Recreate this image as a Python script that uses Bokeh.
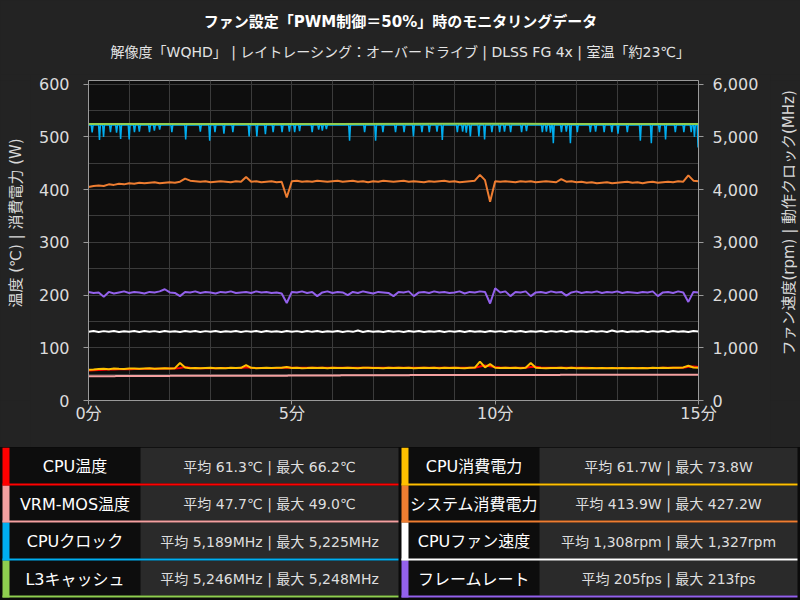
import math
from bokeh.plotting import figure
from bokeh.layouts import column, row
from bokeh.models import (Range1d, LinearAxis, FixedTicker, NumeralTickFormatter,
                          CustomJSTickFormatter)
from bokeh.core.properties import value
from bokeh.embed import file_html
from bokeh.resources import INLINE

FONT = "DejaVu Sans, Noto Sans CJK JP"

TITLE = "ファン設定「PWM制御＝50%」時のモニタリングデータ"
SUBTITLE = "解像度「WQHD」 | レイトレーシング：オーバードライブ | DLSS FG 4x | 室温「約23℃」"
LEFT_LABEL = "温度 (℃) | 消費電力 (W)"
RIGHT_LABEL = "ファン速度(rpm) | 動作クロック(MHz)"

# time grid (minutes) for sampled series
minutes = [i / 8 for i in range(121)]

cpu_temp = [57.0, 57.5, 58.0, 58.3, 58.6, 58.9, 59.1, 59.3, 59.5, 59.7,
            59.9, 60.0, 60.2, 60.3, 60.4, 60.5, 60.6, 60.7, 61.5, 63.5,
            62.0, 61.3, 61.2, 61.3, 61.4, 61.4, 61.5, 61.5, 61.6, 61.6,
            61.6, 63.0, 62.0, 61.7, 61.7, 61.8, 61.8, 61.8, 61.9, 62.5,
            62.0, 61.9, 61.9, 61.9, 62.0, 62.0, 61.9, 61.9, 62.0, 62.0,
            61.9, 61.9, 62.0, 62.0, 61.9, 62.0, 62.0, 61.9, 62.0, 62.0,
            61.9, 62.0, 62.0, 61.9, 61.9, 62.0, 62.0, 62.0, 61.9, 61.9,
            62.0, 62.0, 61.9, 62.0, 62.0, 61.9, 62.1, 64.5, 66.2, 65.0,
            63.5, 62.5, 62.2, 62.1, 62.0, 62.0, 62.0, 63.5, 64.0, 62.8,
            62.3, 62.1, 62.0, 62.0, 61.9, 61.9, 61.9, 62.0, 61.9, 61.8,
            61.8, 61.8, 61.7, 61.7, 61.7, 61.6, 61.6, 61.6, 61.6, 61.7,
            61.7, 61.8, 61.8, 61.9, 62.0, 62.0, 62.1, 62.3, 63.8, 64.5,
            63.5]

vrm_t = [0, 0.66, 0.66, 2.0, 2.0, 4.9, 4.9, 6.2, 6.2, 7.9, 7.9, 11.6, 11.6, 15]
vrm_v = [46.0, 46.0, 46.5, 46.5, 47.0, 47.0, 47.5, 47.5, 48.0, 48.0, 48.5, 48.5, 49.0, 49.0]

# CPU clock: steady level with short dips (time in minutes, value in MHz)
clk_base = 5225
clk_dip_t = [0.09, 0.27, 0.37, 0.54, 0.69, 0.79, 1.00, 1.13, 1.25, 1.50, 1.62, 1.75,
             2.05, 2.39, 2.75, 2.98, 3.11, 3.33, 3.55, 3.95, 4.14, 4.35, 4.54, 4.76,
             4.94, 5.07, 5.19, 5.50, 5.66, 5.75, 5.85, 6.42, 6.79, 7.06, 7.24, 7.55,
             7.76, 7.99, 8.20, 8.38, 8.57, 8.70, 9.07, 9.20, 9.29, 9.39, 9.60, 9.74,
             9.92, 10.11, 10.23, 10.38, 10.65, 10.77, 11.16, 11.26, 11.36, 11.43,
             11.63, 11.75, 11.85, 12.02, 12.34, 12.47, 12.68, 12.87, 13.02, 13.25,
             13.57, 13.84, 14.04, 14.19, 14.43, 14.64, 14.82, 14.90, 14.99]
clk_dip_v = [5086, 4940, 5000, 5090, 5080, 4960, 4950, 5090, 5100, 5090, 5120, 5140,
             5090, 4950, 5100, 4930, 5090, 5060, 5090, 5010, 5010, 5050, 5090, 5090,
             5100, 5090, 5110, 5090, 5140, 5120, 5150, 4930, 5090, 4930, 5090, 5090,
             5090, 5010, 5090, 5090, 5100, 4940, 5090, 5100, 5080, 5010, 5010, 4950,
             5090, 5090, 5100, 5090, 5090, 5110, 5090, 5100, 5080, 4880,
             5090, 5100, 4880, 5090, 5090, 5100, 5090, 5090, 5060, 5090,
             4930, 4880, 5090, 4950, 5090, 5090, 5090, 5000, 4800]

l3_t = [0, 3, 6, 9, 12, 15]
l3_v = [5246, 5247, 5246, 5248, 5247, 5246]

cpu_power = [58.5, 59.0, 59.8, 60.2, 59.5, 60.6, 60.1, 59.8, 60.5, 60.9,
             60.2, 60.7, 61.0, 60.4, 60.8, 61.2, 60.6, 61.4, 71.0, 62.5,
             61.2, 61.8, 61.0, 61.5, 62.0, 61.3, 61.7, 61.1, 62.2, 61.5,
             61.9, 67.0, 62.0, 61.4, 61.8, 62.1, 61.5, 61.9, 62.3, 63.5,
             61.8, 62.0, 61.4, 61.7, 62.2, 61.6, 61.9, 61.3, 62.0, 61.8,
             61.5, 62.1, 61.7, 61.2, 61.9, 62.3, 61.6, 61.8, 61.4, 62.0,
             61.7, 62.2, 61.5, 61.9, 61.3, 61.8, 62.1, 61.6, 62.0, 61.4,
             61.9, 61.5, 62.2, 61.7, 61.3, 61.9, 62.4, 73.8, 63.0, 69.0,
             62.1, 61.6, 62.0, 61.5, 61.9, 61.4, 62.0, 71.0, 62.2, 61.7,
             61.3, 61.8, 61.5, 62.0, 61.4, 61.9, 61.2, 61.7, 61.3, 61.8,
             61.1, 61.6, 61.2, 61.7, 61.0, 61.5, 61.2, 61.8, 61.1, 61.6,
             61.3, 61.9, 61.5, 62.0, 61.7, 62.3, 62.0, 62.8, 66.0, 62.5,
             62.0]

sys_power = [405, 407, 408, 407, 410, 409, 411, 410, 412, 411,
             413, 412, 413, 414, 412, 413, 414, 413, 415, 421,
             417, 416, 415, 416, 414, 415, 416, 415, 414, 416,
             415, 424, 415, 416, 414, 415, 416, 414, 415, 385,
             416, 417, 415, 416, 415, 417, 416, 415, 416, 417,
             415, 416, 417, 415, 416, 414, 416, 415, 417, 416,
             415, 416, 417, 415, 416, 415, 414, 416, 415, 416,
             417, 415, 416, 414, 415, 416, 417, 428, 418, 377,
             416, 415, 416, 415, 414, 416, 415, 416, 414, 415,
             416, 415, 414, 420, 415, 416, 414, 415, 413, 414,
             412, 413, 414, 412, 413, 414, 415, 413, 414, 412,
             414, 415, 413, 414, 415, 414, 416, 415, 427, 417,
             416]

fan_rpm = [1302, 1318, 1300, 1316, 1303, 1319, 1301, 1315, 1304, 1317,
           1300, 1318, 1302, 1316, 1301, 1319, 1303, 1315, 1300, 1317,
           1302, 1318, 1301, 1316, 1303, 1320, 1300, 1315, 1302, 1318,
           1301, 1316, 1303, 1319, 1300, 1317, 1302, 1315, 1301, 1318,
           1303, 1316, 1300, 1319, 1302, 1317, 1301, 1315, 1303, 1318,
           1300, 1316, 1302, 1327, 1301, 1317, 1303, 1315, 1300, 1318,
           1302, 1316, 1301, 1319, 1303, 1317, 1300, 1315, 1302, 1318,
           1301, 1316, 1303, 1319, 1300, 1317, 1302, 1315, 1301, 1318,
           1303, 1316, 1300, 1319, 1302, 1317, 1301, 1315, 1303, 1318,
           1300, 1316, 1302, 1319, 1301, 1317, 1303, 1315, 1300, 1318,
           1302, 1316, 1301, 1327, 1303, 1317, 1300, 1315, 1302, 1318,
           1301, 1316, 1303, 1319, 1300, 1317, 1302, 1315, 1301, 1318,
           1310]

fps = [206, 204, 205, 197, 206, 203, 205, 207, 204, 206,
       205, 203, 206, 205, 207, 211, 205, 204, 198, 206,
       205, 207, 204, 206, 205, 203, 206, 205, 207, 204,
       205, 206, 204, 207, 205, 206, 204, 205, 203, 185,
       206, 205, 207, 204, 206, 198, 205, 207, 204, 206,
       205, 200, 206, 204, 207, 205, 203, 206, 205, 204,
       198, 206, 205, 207, 198, 205, 206, 204, 207, 205,
       206, 204, 205, 207, 203, 206, 205, 207, 206, 184,
       213, 205, 207, 198, 206, 205, 207, 198, 205, 206,
       204, 207, 205, 206, 199, 205, 207, 204, 206, 205,
       207, 204, 206, 205, 207, 204, 206, 205, 204, 206,
       205, 207, 198, 205, 206, 204, 207, 205, 187, 206,
       205]

left_ticks = [0, 100, 200, 300, 400, 500, 600]
right_ticks = [0, 1000, 2000, 3000, 4000, 5000, 6000]
x_ticks = [0, 5, 10, 15]

legend_names_l = ["CPU温度", "VRM-MOS温度", "CPUクロック", "L3キャッシュ"]
legend_stats_l = ["平均 61.3℃ | 最大 66.2℃", "平均 47.7℃ | 最大 49.0℃",
                  "平均 5,189MHz | 最大 5,225MHz", "平均 5,246MHz | 最大 5,248MHz"]
legend_names_r = ["CPU消費電力", "システム消費電力", "CPUファン速度", "フレームレート"]
legend_stats_r = ["平均 61.7W | 最大 73.8W", "平均 413.9W | 最大 427.2W",
                  "平均 1,308rpm | 最大 1,327rpm", "平均 205fps | 最大 213fps"]

C_RED = "#ff0000"
C_PINK = "#f4a0a0"
C_BLUE = "#00aef0"
C_GREEN = "#8fce4f"
C_YEL = "#ffc000"
C_ORA = "#ee7d31"
C_WHITE = "#ffffff"
C_PUR = "#9361ec"
colors_l = [C_RED, C_PINK, C_BLUE, C_GREEN]
colors_r = [C_YEL, C_ORA, C_WHITE, C_PUR]

PANEL = "#232323"
BG = {"background-color": PANEL}

# CPU clock line built from the level and the dips
clk_t, clk_v = [0.0], [clk_base]
for t, v in zip(clk_dip_t, clk_dip_v):
    clk_t += [t - 0.022, t, min(t + 0.022, 15.0)]
    clk_v += [clk_base, v, clk_base]

# ---------------- title figure ----------------
tf = figure(width=800, height=74, x_range=Range1d(0, 800), y_range=Range1d(74, 0),
            output_backend="svg", toolbar_location=None, min_border=0,
            x_axis_type=None, y_axis_type=None, styles=BG,
            background_fill_color=PANEL, border_fill_color=PANEL, outline_line_color=None)
tf.text(x=[400], y=[21], text=[TITLE], text_font=value(FONT), text_font_size="15px",
        text_font_style="bold", text_color="#ffffff", text_align="center", text_baseline="middle")
tf.text(x=[400], y=[51], text=[SUBTITLE], text_font=value(FONT), text_font_size="14px",
        text_color="#e4e4e4", text_align="center", text_baseline="middle")

# ---------------- side label figures ----------------
def side_fig(x0, x1, xc, label):
    f = figure(width=30, height=373, x_range=Range1d(x0, x1), y_range=Range1d(0, 373),
               output_backend="svg", toolbar_location=None, min_border=0,
               x_axis_type=None, y_axis_type=None, styles=BG,
               background_fill_color=PANEL, border_fill_color=PANEL, outline_line_color=None)
    f.text(x=[xc], y=[447 - 240], text=[label], angle=math.pi / 2, text_font=value(FONT),
           text_font_size="15px", text_color="#d8d8d8", text_align="center",
           text_baseline="middle")
    return f

lf = side_fig(0, 30, 15, LEFT_LABEL)
rf = side_fig(770, 800, 788, RIGHT_LABEL)

# ---------------- main chart ----------------
p = figure(width=740, height=373, x_range=Range1d(0, 15), y_range=Range1d(0, 607),
           output_backend="svg", toolbar_location=None, styles=BG,
           min_border_left=58, min_border_right=72, min_border_top=6, min_border_bottom=47,
           background_fill_color="#0e0e0e", border_fill_color=PANEL,
           outline_line_color="#9a9a9a", outline_line_width=1)
p.extra_y_ranges = {"right": Range1d(0, 6070)}

p.xaxis.ticker = FixedTicker(ticks=x_ticks)
p.xaxis.formatter = CustomJSTickFormatter(code="return tick + '分';")
p.yaxis.ticker = FixedTicker(ticks=left_ticks)
ra = LinearAxis(y_range_name="right", ticker=FixedTicker(ticks=right_ticks),
                formatter=NumeralTickFormatter(format="0,0"))
p.add_layout(ra, "right")

for ax in [p.xaxis[0], p.yaxis[0], ra]:
    ax.axis_line_color = "#9a9a9a"
    ax.major_tick_line_color = "#9a9a9a"
    ax.major_tick_out = 5
    ax.major_tick_in = 0
    ax.minor_tick_line_color = None
    ax.major_label_text_font = FONT
    ax.major_label_text_font_size = "16px"
    ax.major_label_text_color = "#dcdcdc"
p.yaxis[0].major_label_standoff = 14
ra.major_label_standoff = 9
p.xaxis[0].major_tick_out = 4
p.xaxis[0].major_label_standoff = -1

p.xgrid.ticker = FixedTicker(ticks=list(range(0, 16)))
p.ygrid.ticker = FixedTicker(ticks=list(range(0, 601, 50)))
p.grid.grid_line_color = "#3b3b3b"
p.grid.grid_line_width = 1

LW = 2
p.line(minutes, cpu_temp, line_color=C_RED, line_width=LW)
p.line(vrm_t, vrm_v, line_color=C_PINK, line_width=LW)
p.line(clk_t, clk_v, line_color=C_BLUE, line_width=1.5, y_range_name="right")
p.line(l3_t, l3_v, line_color=C_GREEN, line_width=LW, y_range_name="right")
p.line(minutes, cpu_power, line_color=C_YEL, line_width=LW)
p.line(minutes, sys_power, line_color=C_ORA, line_width=LW)
p.line(minutes, fan_rpm, line_color=C_WHITE, line_width=LW, y_range_name="right")
p.line(minutes, fps, line_color=C_PUR, line_width=LW)

# ---------------- legend table ----------------
lg = figure(width=800, height=153, x_range=Range1d(0, 800), y_range=Range1d(600, 447),
            output_backend="svg", toolbar_location=None, min_border=0,
            x_axis_type=None, y_axis_type=None, styles={"background-color": "#0b0b0b"},
            background_fill_color="#0b0b0b", border_fill_color="#0b0b0b", outline_line_color=None)

row_top = [447, 485, 522, 560]
row_bot = [483, 520, 558, 595]

cols = [
    dict(s0=2, s1=9, l1=140, v1=398, names=legend_names_l, stats=legend_stats_l, colors=colors_l),
    dict(s0=401, s1=408, l1=539, v1=797, names=legend_names_r, stats=legend_stats_r, colors=colors_r),
]
for c in cols:
    n = len(c["names"])
    lg.quad(left=[c["s1"]] * n, right=[c["l1"]] * n, top=row_top, bottom=row_bot,
            fill_color="#0d0d0d", line_color=None)
    lg.quad(left=[c["l1"]] * n, right=[c["v1"]] * n, top=row_top, bottom=row_bot,
            fill_color="#2a2a2a", line_color=None)
    lg.quad(left=[c["s0"]] * n, right=[c["s1"]] * n, top=row_top,
            bottom=[b + 2 for b in row_bot], fill_color=c["colors"], line_color=None)
    lg.quad(left=[c["s0"]] * n, right=[c["v1"]] * n, top=row_bot,
            bottom=[b + 2 for b in row_bot], fill_color=c["colors"], line_color=None)
    mids = [(t + b) / 2 + 1 for t, b in zip(row_top, row_bot)]
    lg.text(x=[(c["s1"] + c["l1"]) / 2] * n, y=mids, text=c["names"], text_font=value(FONT),
            text_font_size="16px", text_color="#ffffff", text_align="center",
            text_baseline="middle")
    lg.text(x=[(c["l1"] + c["v1"]) / 2] * n, y=mids, text=c["stats"], text_font=value(FONT),
            text_font_size="14px", text_color="#dedede", text_align="center",
            text_baseline="middle")

layout = column(tf, row(lf, p, rf, styles=BG), lg, styles=BG)

open("out.html", "w").write(file_html(layout, INLINE))
